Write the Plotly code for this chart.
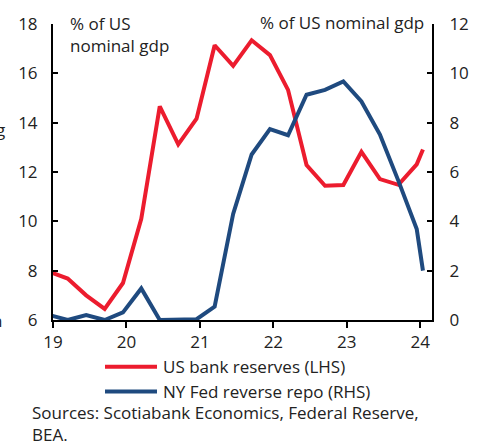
import plotly.graph_objects as go

# Mid-month of each quarter's last month, plus the latest monthly reading
dates = [
    "2018-12-15", "2019-03-15", "2019-06-15", "2019-09-15", "2019-12-15",
    "2020-03-15", "2020-06-15", "2020-09-15", "2020-12-15",
    "2021-03-15", "2021-06-15", "2021-09-15", "2021-12-15",
    "2022-03-15", "2022-06-15", "2022-09-15", "2022-12-15",
    "2023-03-15", "2023-06-15", "2023-09-15", "2023-12-15",
    "2024-01-15",
]
# % of US nominal GDP
bank_reserves = [7.95, 7.68, 7.0, 6.45, 7.5, 10.1, 14.66, 13.12, 14.16, 17.14, 16.3,
                 17.34, 16.74, 15.33, 12.28, 11.44, 11.47, 12.82, 11.71, 11.48, 12.31, 12.91]
reverse_repo = [0.2, 0.0, 0.2, 0.0, 0.31, 1.28, 0.0, 0.0, 0.03, 0.54, 4.3,
                6.71, 7.74, 7.49, 9.13, 9.33, 9.67, 8.86, 7.52, 5.64, 3.69, 2.0]

year_ticks = ["2019-01-01", "2020-01-01", "2021-01-01", "2022-01-01", "2023-01-01", "2024-01-01"]
year_labels = ["19", "20", "21", "22", "23", "24"]

RED = "#EC1C2E"
BLUE = "#1F4A7F"
INK = "#222222"
FONT = "Open Sans"

fig = go.Figure()
fig.add_trace(go.Scatter(x=dates, y=bank_reserves, mode="lines", name="US bank reserves (LHS)",
                         line=dict(color=RED, width=4), yaxis="y"))
fig.add_trace(go.Scatter(x=dates, y=reverse_repo, mode="lines", name="NY Fed reverse repo (RHS)",
                         line=dict(color=BLUE, width=4), yaxis="y2", cliponaxis=False))

L, R, T, B = 53, 50, 22, 125
W, H = 482, 445
pw, ph = W - L - R, H - T - B


def px(x):
    return (x - L) / pw


def py(y):
    return (H - B - y) / ph


fig.update_layout(
    width=W, height=H,
    margin=dict(l=L, r=R, t=T, b=B),
    paper_bgcolor="white", plot_bgcolor="white",
    showlegend=False,
    font=dict(family=FONT, size=16, color=INK),
    xaxis=dict(
        type="date", range=["2019-01-01", "2024-02-29"],
        tickvals=year_ticks, ticktext=year_labels,
        showline=True, linecolor="black", linewidth=2,
        ticks="outside", ticklen=6, tickwidth=2, tickcolor="black",
        showgrid=False, zeroline=False, layer="below traces",
        tickfont=dict(size=17, color=INK),
    ),
    yaxis=dict(
        range=[6, 18], dtick=2, tick0=6,
        showline=True, linecolor="black", linewidth=2,
        ticks="inside", ticklen=5, tickwidth=2, tickcolor="black",
        showgrid=False, zeroline=False,
        tickfont=dict(size=17, color=INK), ticklabelstandoff=10,
    ),
    yaxis2=dict(
        range=[0, 12], dtick=2, tick0=0, overlaying="y", side="right",
        showline=True, linecolor="black", linewidth=2,
        ticks="inside", ticklen=5, tickwidth=2, tickcolor="black",
        showgrid=False, zeroline=False,
        tickfont=dict(size=17, color=INK), ticklabelstandoff=12,
    ),
)

annotations = [
    dict(text="% of US<br>nominal gdp", x=px(68), y=py(8), xanchor="left", yanchor="top",
         align="left", font=dict(size=17)),
    dict(text="% of US nominal gdp", x=px(426), y=py(20), xanchor="right", yanchor="middle",
         font=dict(size=17)),
    dict(text="US bank reserves (LHS)", x=px(161), y=py(367), xanchor="left", yanchor="middle",
         font=dict(size=17)),
    dict(text="NY Fed reverse repo (RHS)", x=px(161), y=py(392), xanchor="left", yanchor="middle",
         font=dict(size=17)),
    dict(text="Sources: Scotiabank Economics, Federal Reserve,<br>BEA.", x=px(30), y=py(424),
         xanchor="left", yanchor="middle", align="left", font=dict(size=17)),
    dict(text="g", x=px(7), y=py(128), xanchor="right", yanchor="middle", font=dict(size=17)),
    dict(text="n", x=px(4), y=py(321), xanchor="right", yanchor="middle", font=dict(size=17)),
]
for a in annotations:
    a.update(xref="paper", yref="paper", showarrow=False)
fig.update_layout(annotations=annotations)

# Legend keys
shapes = []
for yy, col in [(367, RED), (392, BLUE)]:
    shapes.append(dict(type="line", xref="paper", yref="paper",
                       x0=px(105), x1=px(157), y0=py(yy), y1=py(yy),
                       line=dict(color=col, width=4)))
fig.update_layout(shapes=shapes)

fig.write_html("out.html")
